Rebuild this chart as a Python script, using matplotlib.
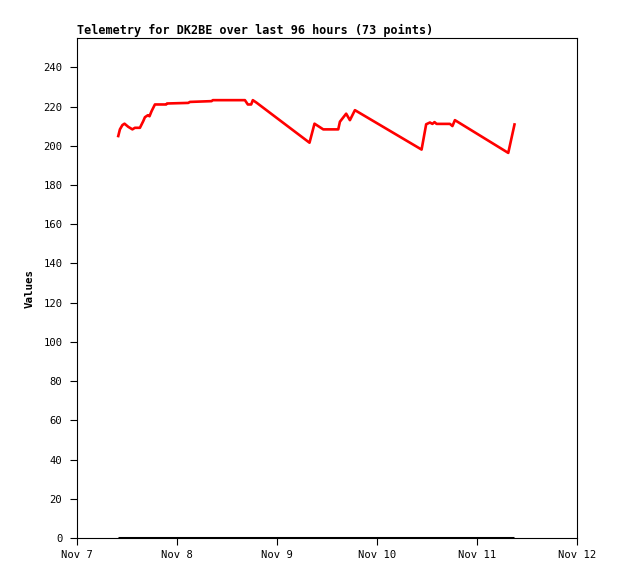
import datetime as dt
import matplotlib
matplotlib.use("Agg")
import matplotlib.pyplot as plt
import matplotlib.dates as mdates
from matplotlib.ticker import FuncFormatter

# Hours after Nov 7 00:00 and the telemetry values
hours = [9.9, 10.3, 10.9, 11.4, 12.3, 13.3, 13.9, 15.1, 15.9, 16.3, 17.0, 17.4,
         17.9, 18.7, 21.4, 21.6, 26.7, 27.1, 32.3, 32.6, 37.5, 40.3, 41.0, 41.8,
         42.2, 43.1, 55.8, 57.0, 59.1, 62.7, 63.1, 64.6, 65.5, 66.7, 82.7, 83.8,
         84.7, 85.3, 85.8, 86.3, 89.5, 90.1, 90.7, 103.5, 105.0]
values = [205.0, 208.4, 210.6, 211.3, 209.7, 208.4, 209.2, 209.2, 212.6, 214.6,
          215.6, 215.1, 217.7, 221.1, 221.1, 221.6, 221.9, 222.4, 222.8, 223.3,
          223.3, 223.3, 221.1, 221.1, 223.3, 222.0, 201.6, 211.3, 208.4, 208.4,
          212.3, 216.4, 213.1, 218.2, 198.1, 211.0, 211.9, 211.2, 212.1, 211.2,
          211.2, 210.1, 213.1, 196.4, 210.9]
zero_values = [0] * len(hours)

start = dt.datetime(2023, 11, 7)
times = [start + dt.timedelta(hours=h) for h in hours]

mono = ["DejaVu Sans Mono"]

fig = plt.figure(figsize=(6.18, 5.79), dpi=100)
ax = fig.add_axes([77 / 618, 41 / 579, 500 / 618, 500 / 579])

ax.plot(times, zero_values, color="black", linewidth=2.2, solid_capstyle="butt")
ax.plot(times, values, color="#ff0000", linewidth=1.9)

ax.set_xlim(start, start + dt.timedelta(days=5))
ax.set_ylim(0, 255)
ax.set_yticks(range(0, 241, 20))
ax.xaxis.set_major_locator(mdates.DayLocator())
ax.xaxis.set_major_formatter(FuncFormatter(lambda x, pos: f"{mdates.num2date(x):%b} {mdates.num2date(x).day}"))

ax.tick_params(direction="out", length=5, width=0.8, labelsize=7.6)
ax.tick_params(axis="y", pad=5.5)
ax.tick_params(axis="x", pad=4)
for lbl in ax.get_xticklabels() + ax.get_yticklabels():
    lbl.set_family(mono)

for s in ax.spines.values():
    s.set_linewidth(0.8)

ax.set_ylabel("Values", family=mono, fontsize=7.8, fontweight="bold", labelpad=6)
ax.set_title("Telemetry for DK2BE over last 96 hours (73 points)", loc="left",
             family=mono, fontsize=8.5, fontweight="bold", pad=3)

fig.savefig("out.png", dpi=100)
